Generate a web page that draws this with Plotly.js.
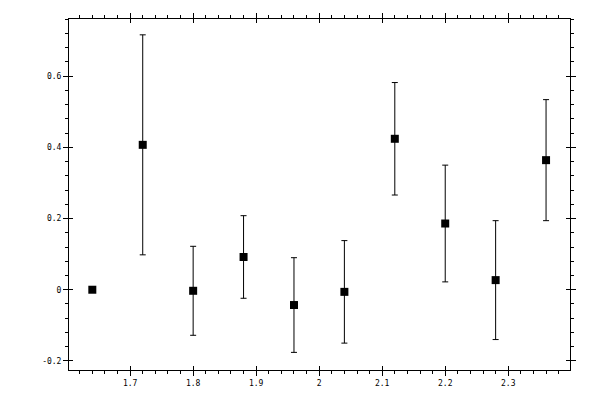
<!DOCTYPE html>
<html>
<head>
<meta charset="utf-8">
<script src="https://cdn.plot.ly/plotly-3.0.1.min.js"></script>
<style>
	html, body { margin: 0; padding: 0; background: #fff; }
	#plot { width: 600px; height: 400px; }
</style>
</head>
<body>
<div id="plot"></div>
<script>
'use strict';

// values
const xVals = [1.64, 1.72, 1.80, 1.88, 1.96, 2.04, 2.12, 2.20, 2.28, 2.36];
const yVals = [0, 0.407, -0.003, 0.092, -0.043, -0.006, 0.424, 0.186, 0.027, 0.364];
const yErrs = [0, 0.309, 0.125, 0.116, 0.133, 0.144, 0.158, 0.164, 0.167, 0.170];
const xTickVals = [1.7, 1.8, 1.9, 2, 2.1, 2.2, 2.3];
const xTickText = ['1.7', '1.8', '1.9', '2', '2.1', '2.2', '2.3'];
const yTickVals = [-0.2, 0, 0.2, 0.4, 0.6];
const yTickText = ['-0.2', '0', '0.2', '0.4', '0.6'];

document.addEventListener('DOMContentLoaded', function(){

	const xRange = [1.603, 2.398];
	const yRange = [-0.2255, 0.7605];
	const tickFont = {family: 'DejaVu Sans Mono, monospace', size: 8, color: '#000000'};

	const points = {
		x: xVals,
		y: yVals,
		type: 'scatter',
		mode: 'markers',
		marker: {symbol: 'square', size: 8, color: '#000000'},
		error_y: {
			type: 'data',
			array: yErrs,
			visible: true,
			color: '#000000',
			thickness: 1,
			width: 3
		},
		hoverinfo: 'skip'
	};

	// empty trace so the overlay axes (inward major ticks) get drawn
	const overlay = {
		x: xVals,
		y: yVals,
		xaxis: 'x2',
		yaxis: 'y2',
		type: 'scatter',
		mode: 'markers',
		marker: {opacity: 0},
		hoverinfo: 'skip'
	};

	const layout = {
		width: 600,
		height: 400,
		margin: {l: 69, r: 30, t: 19, b: 30, pad: 0},
		paper_bgcolor: '#ffffff',
		plot_bgcolor: '#ffffff',
		showlegend: false,
		xaxis: {
			range: xRange,
			tickmode: 'array',
			tickvals: xTickVals,
			ticktext: xTickText,
			ticks: 'outside',
			ticklen: 5,
			tickwidth: 1,
			tickcolor: '#000000',
			minor: {dtick: 0.02, ticks: 'outside', ticklen: 3, tickwidth: 1, tickcolor: '#000000', showgrid: false},
			showline: true,
			linecolor: '#000000',
			linewidth: 1,
			mirror: 'ticks',
			showgrid: false,
			zeroline: false,
			tickfont: tickFont
		},
		yaxis: {
			range: yRange,
			tickmode: 'array',
			tickvals: yTickVals,
			ticktext: yTickText,
			ticks: 'outside',
			ticklen: 5,
			tickwidth: 1,
			tickcolor: '#000000',
			minor: {dtick: 0.04, tick0: 0, ticks: 'outside', ticklen: 3, tickwidth: 1, tickcolor: '#000000', showgrid: false},
			showline: true,
			linecolor: '#000000',
			linewidth: 1,
			mirror: 'ticks',
			showgrid: false,
			zeroline: false,
			tickfont: tickFont
		},
		xaxis2: {
			overlaying: 'x',
			anchor: 'y2',
			range: xRange,
			tickmode: 'array',
			tickvals: xTickVals,
			ticks: 'inside',
			ticklen: 4,
			tickwidth: 1,
			tickcolor: '#000000',
			mirror: 'ticks',
			showline: false,
			showgrid: false,
			zeroline: false,
			showticklabels: false
		},
		yaxis2: {
			overlaying: 'y',
			anchor: 'x2',
			range: yRange,
			tickmode: 'array',
			tickvals: yTickVals,
			ticks: 'inside',
			ticklen: 4,
			tickwidth: 1,
			tickcolor: '#000000',
			mirror: 'ticks',
			showline: false,
			showgrid: false,
			zeroline: false,
			showticklabels: false
		}
	};

	try {
		Plotly.newPlot('plot', [overlay, points], layout, {staticPlot: true});
	}
	catch (err) {
		console.error(err);
	}
});
</script>
</body>
</html>
